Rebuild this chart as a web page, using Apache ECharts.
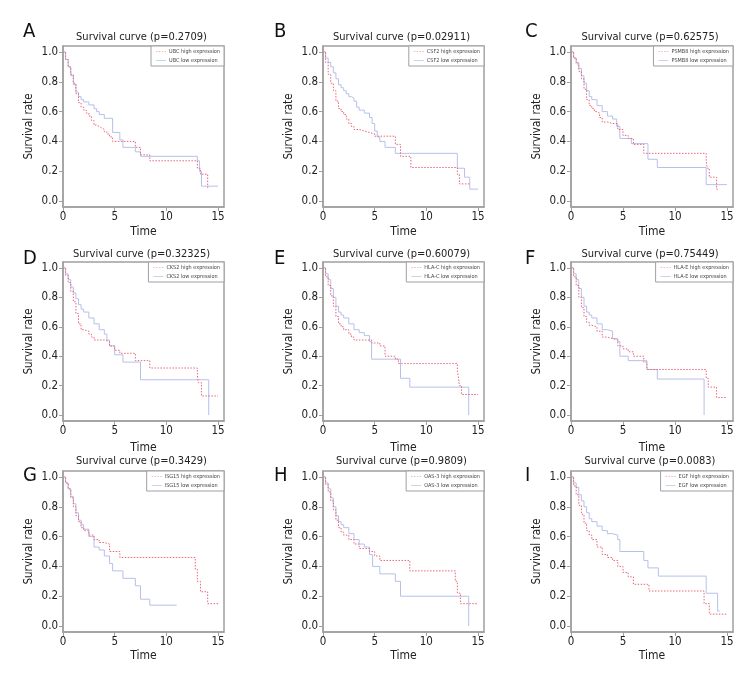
<!DOCTYPE html>
<html>
<head>
<meta charset="utf-8">
<script src="https://cdn.jsdelivr.net/npm/echarts@6/dist/echarts.min.js"></script>
<style>html,body{margin:0;padding:0;background:#fff;}#c{width:756px;height:696px;}</style>
</head>
<body>
<div id="c"></div>
<script>
// ---- data ----
const panelLetters = ['A','B','C','D','E','F','G','H','I'];
const genes = ['UBC','CSF2','PSMB8','CKS2','HLA-C','HLA-E','ISG15','OAS-3','EGF'];
const pValues = ['0.2709','0.02911','0.62575','0.32325','0.60079','0.75449','0.3429','0.9809','0.0083'];
const yTicks = [0, 0.2, 0.4, 0.6, 0.8, 1.0];
const xTicks = [0, 5, 10, 15];

const A_high = [[0,1],[0.25,0.95],[0.5,0.9],[0.75,0.85],[1,0.79],[1.25,0.72],[1.5,0.66],[1.75,0.63],[2,0.61],[2.25,0.59],[2.5,0.57],[2.75,0.54],[3,0.51],[3.25,0.5],[3.5,0.49],[3.75,0.48],[4,0.465],[4.25,0.45],[4.5,0.43],[4.8,0.40],[7.0,0.36],[7.5,0.31],[8.4,0.27],[13.0,0.22],[13.3,0.18],[14.0,0.09],[14.2,0.09]];
const A_low = [[0,1],[0.25,0.95],[0.5,0.9],[0.75,0.84],[1,0.78],[1.25,0.73],[1.5,0.70],[1.75,0.68],[2,0.665],[2.5,0.645],[3,0.62],[3.25,0.60],[3.5,0.58],[4,0.555],[4.8,0.46],[5.5,0.41],[5.8,0.36],[7.0,0.33],[7.5,0.30],[13.0,0.27],[13.2,0.20],[13.4,0.10],[15,0.10]];
const B_high = [[0,1],[0.25,0.93],[0.5,0.85],[0.75,0.79],[1,0.74],[1.25,0.67],[1.5,0.62],[1.75,0.60],[2,0.58],[2.25,0.55],[2.5,0.52],[2.75,0.50],[3,0.48],[3.5,0.47],[4,0.46],[4.5,0.45],[5,0.435],[7.0,0.38],[7.5,0.30],[8.5,0.225],[13.0,0.18],[13.2,0.115],[14.3,0.115]];
const B_low = [[0,1],[0.25,0.96],[0.5,0.93],[0.75,0.90],[1,0.86],[1.25,0.82],[1.5,0.78],[1.75,0.76],[2,0.74],[2.25,0.72],[2.5,0.70],[2.75,0.69],[3,0.67],[3.25,0.63],[3.5,0.61],[4,0.59],[4.5,0.56],[4.75,0.52],[5,0.47],[5.25,0.43],[5.5,0.40],[6,0.36],[7,0.32],[13.0,0.22],[13.7,0.16],[14.2,0.08],[15,0.08]];
const C_high = [[0,1],[0.25,0.96],[0.5,0.92],[0.75,0.87],[1,0.82],[1.25,0.75],[1.5,0.68],[1.75,0.64],[2,0.62],[2.25,0.60],[2.5,0.59],[2.75,0.56],[3,0.53],[3.5,0.52],[4,0.52],[4.5,0.48],[5,0.44],[5.5,0.42],[6,0.38],[7,0.32],[13.0,0.27],[13.1,0.22],[13.3,0.16],[14.0,0.08],[14.2,0.08]];
const C_low = [[0,1],[0.25,0.96],[0.5,0.93],[0.75,0.89],[1,0.84],[1.25,0.79],[1.5,0.74],[1.75,0.70],[2,0.68],[2.5,0.64],[3,0.60],[3.5,0.57],[4,0.55],[4.4,0.50],[4.7,0.42],[5.8,0.385],[7.4,0.28],[8.3,0.225],[13.0,0.11],[15,0.11]];
const D_high = [[0,1],[0.25,0.95],[0.5,0.90],[0.75,0.84],[1,0.77],[1.25,0.69],[1.5,0.62],[1.75,0.58],[2,0.57],[2.5,0.55],[2.75,0.53],[3,0.51],[4,0.50],[4.5,0.47],[5,0.44],[5.5,0.42],[7,0.37],[8.4,0.32],[13.0,0.27],[13.1,0.22],[13.4,0.13],[15,0.13]];
const D_low = [[0,1],[0.25,0.96],[0.5,0.92],[0.75,0.87],[1,0.83],[1.25,0.79],[1.5,0.75],[1.75,0.72],[2,0.70],[2.5,0.66],[3,0.62],[3.5,0.58],[4,0.55],[4.25,0.51],[4.5,0.47],[5,0.41],[5.8,0.36],[7.5,0.24],[14.1,0.0]];
const E_high = [[0,1],[0.25,0.94],[0.5,0.88],[0.75,0.81],[1,0.74],[1.25,0.67],[1.5,0.62],[1.75,0.60],[2,0.58],[2.5,0.55],[2.75,0.53],[3,0.51],[4.7,0.49],[5.5,0.47],[6,0.40],[7,0.38],[7.3,0.35],[13.0,0.30],[13.1,0.26],[13.2,0.20],[13.4,0.14],[15,0.14]];
const E_low = [[0,1],[0.25,0.96],[0.5,0.92],[0.75,0.86],[1,0.80],[1.25,0.74],[1.5,0.70],[1.75,0.68],[2,0.66],[2.5,0.62],[3,0.58],[3.5,0.56],[4,0.54],[4.5,0.50],[4.7,0.38],[7.5,0.25],[8.4,0.19],[14.1,0.0]];
const F_high = [[0,1],[0.25,0.94],[0.5,0.88],[0.75,0.80],[1,0.73],[1.25,0.67],[1.5,0.63],[1.75,0.61],[2,0.60],[2.5,0.57],[3,0.53],[3.5,0.52],[4,0.51],[4.5,0.47],[5,0.45],[5.5,0.43],[6,0.40],[7,0.36],[7.3,0.31],[13,0.25],[13.2,0.19],[14,0.12],[15,0.12]];
const F_low = [[0,1],[0.25,0.96],[0.5,0.92],[0.75,0.86],[1,0.80],[1.25,0.74],[1.5,0.70],[1.75,0.68],[2,0.66],[2.5,0.62],[3,0.58],[3.5,0.57],[4,0.52],[4.5,0.50],[4.7,0.40],[5.5,0.37],[7.3,0.31],[8.3,0.245],[12.8,0.0]];
const G_high = [[0,1],[0.25,0.96],[0.5,0.92],[0.75,0.86],[1,0.80],[1.25,0.74],[1.5,0.70],[1.75,0.66],[2,0.64],[2.5,0.61],[3,0.58],[3.5,0.56],[4,0.55],[4.5,0.50],[5.5,0.46],[12.8,0.38],[13.0,0.30],[13.3,0.23],[14.0,0.15],[15,0.15]];
const G_low = [[0,1],[0.25,0.96],[0.5,0.92],[0.75,0.87],[1,0.82],[1.25,0.76],[1.5,0.71],[1.75,0.68],[2,0.65],[2.5,0.60],[3,0.53],[3.5,0.51],[4,0.47],[4.5,0.42],[4.8,0.37],[5.8,0.32],[7,0.27],[7.5,0.18],[8.4,0.14],[11,0.14]];
const H_high = [[0,1],[0.25,0.95],[0.5,0.90],[0.75,0.84],[1,0.78],[1.25,0.71],[1.5,0.66],[1.75,0.63],[2,0.61],[2.5,0.58],[3,0.55],[3.5,0.52],[4,0.52],[4.5,0.50],[5,0.47],[5.5,0.44],[8.4,0.37],[12.8,0.30],[13.0,0.22],[13.3,0.15],[15,0.15]];
const H_low = [[0,1],[0.25,0.96],[0.5,0.92],[0.75,0.86],[1,0.80],[1.25,0.74],[1.5,0.70],[1.75,0.68],[2,0.66],[2.5,0.62],[3,0.58],[3.5,0.55],[4,0.53],[4.5,0.48],[4.8,0.40],[5.5,0.35],[7,0.30],[7.5,0.20],[14.1,0.0]];
const I_high = [[0,1],[0.25,0.94],[0.5,0.88],[0.75,0.81],[1,0.75],[1.25,0.69],[1.5,0.64],[1.75,0.61],[2,0.58],[2.5,0.53],[3,0.48],[3.5,0.46],[4,0.44],[4.5,0.40],[5,0.36],[5.5,0.33],[6,0.28],[7.5,0.235],[12.8,0.15],[13.3,0.08],[15,0.08]];
const I_low = [[0,1],[0.25,0.96],[0.5,0.93],[0.75,0.88],[1,0.84],[1.25,0.80],[1.5,0.76],[1.75,0.72],[2,0.70],[2.5,0.67],[3,0.64],[3.5,0.62],[4,0.61],[4.5,0.58],[4.7,0.50],[7,0.44],[7.4,0.39],[8.4,0.335],[13,0.22],[14.1,0.10],[14.3,0.10]];

const highSets = [A_high,B_high,C_high,D_high,E_high,F_high,G_high,H_high,I_high];
const lowSets = [A_low,B_low,C_low,D_low,E_low,F_low,G_low,H_low,I_low];

// ---- layout ----
const FONT = "'Liberation Sans Narrow','DejaVu Sans Condensed',sans-serif";
const colLeft = [63, 323, 571];
const colWidth = [161, 161, 162];
const rowTop = [46, 262, 471];
const rowHeight = [161, 159, 161];
const titleY = [37, 254, 461];
const letterTop = [22, 249, 466];
const letterX = [23, 274, 525];
const timeGap = [19, 21, 18];
const HIGH_COLOR = '#e8667a';
const LOW_COLOR = '#b7c0ea';
const DASH_ICON = 'path://M0,0h2v1h-2zM4,0h2v1h-2zM8,0h2v1h-2zM12,0h2v1h-2z';
const SOLID_ICON = 'path://M0,0h14v1h-14z';

const grids = [], xAxes = [], yAxes = [], series = [], legends = [], graphics = [];
for (let i = 0; i < 9; i++) {
  const r = Math.floor(i / 3), c = i % 3;
  const left = colLeft[c], top = rowTop[r], w = colWidth[c], h = rowHeight[r];
  grids.push({ left: left, top: top, width: w, height: h, show: true, borderColor: '#a0a0a0', borderWidth: 1.5, backgroundColor: 'transparent' });
  xAxes.push({
    gridIndex: i, type: 'value', min: 0, max: 15.58,
    name: 'Time', nameLocation: 'middle', nameGap: timeGap[r],
    nameTextStyle: { fontFamily: FONT, fontSize: 12, color: '#222' },
    axisLine: { show: true, onZero: false, lineStyle: { color: '#a0a0a0', width: 1.5 } },
    axisTick: { show: true, length: 4, customValues: xTicks, lineStyle: { color: '#a0a0a0' } },
    axisLabel: { customValues: xTicks, margin: 4, fontFamily: FONT, fontSize: 11.5, color: '#222', formatter: v => String(v) },
    splitLine: { show: false }
  });
  yAxes.push({
    gridIndex: i, type: 'value', min: -0.04, max: 1.04,
    name: 'Survival rate', nameLocation: 'middle', nameGap: 28,
    nameTextStyle: { fontFamily: FONT, fontSize: 11.5, color: '#222' },
    axisLine: { show: true, onZero: false, lineStyle: { color: '#a0a0a0', width: 1.5 } },
    axisTick: { show: true, length: 4, customValues: yTicks, lineStyle: { color: '#a0a0a0' } },
    axisLabel: { customValues: yTicks, margin: 5, fontFamily: FONT, fontSize: 11.5, color: '#222', formatter: v => v.toFixed(1) },
    splitLine: { show: false }
  });
  const hiName = genes[i] + ' high expression';
  const loName = genes[i] + ' low expression';
  series.push({
    name: hiName, type: 'line', step: 'end', xAxisIndex: i, yAxisIndex: i,
    data: highSets[i], showSymbol: false, symbol: 'none', z: 3,
    lineStyle: { color: HIGH_COLOR, width: 1, type: [1.5, 1.5] }, itemStyle: { color: HIGH_COLOR }
  });
  series.push({
    name: loName, type: 'line', step: 'end', xAxisIndex: i, yAxisIndex: i,
    data: lowSets[i], showSymbol: false, symbol: 'none', z: 2,
    lineStyle: { color: LOW_COLOR, width: 1, type: 'solid' }, itemStyle: { color: LOW_COLOR }
  });
  legends.push({
    data: [{ name: hiName, icon: DASH_ICON }, { name: loName, icon: SOLID_ICON }],
    orient: 'vertical',
    right: 756 - (left + w), top: top,
    itemWidth: 10, itemHeight: 1, itemGap: 2, itemStyle: { borderWidth: 0 },
    padding: [2, 4, 2, 5],
    backgroundColor: '#fff', borderColor: '#a0a0a0', borderWidth: 1,
    textStyle: { fontFamily: FONT, fontSize: 5.5, color: '#444', padding: [0, 0, 0, -2], lineHeight: 7 },
    selectedMode: false
  });
  graphics.push({
    type: 'text', x: left + w / 2 - 2, y: titleY[r],
    style: { text: 'Survival curve (p=' + pValues[i] + ')', font: '11px ' + FONT, fill: '#222',
      align: 'center', verticalAlign: 'middle', textAlign: 'center', textVerticalAlign: 'middle' }
  });
  graphics.push({
    type: 'text', x: letterX[c], y: letterTop[r],
    style: { text: panelLetters[i], font: '20px ' + FONT, fill: '#111',
      align: 'left', verticalAlign: 'top', textAlign: 'left', textVerticalAlign: 'top' }
  });
}

const chart = echarts.init(document.getElementById('c'), null, { renderer: 'canvas' });
chart.setOption({
  animation: false,
  backgroundColor: '#fff',
  grid: grids, xAxis: xAxes, yAxis: yAxes, series: series, legend: legends,
  graphic: graphics
});
</script>
</body>
</html>
